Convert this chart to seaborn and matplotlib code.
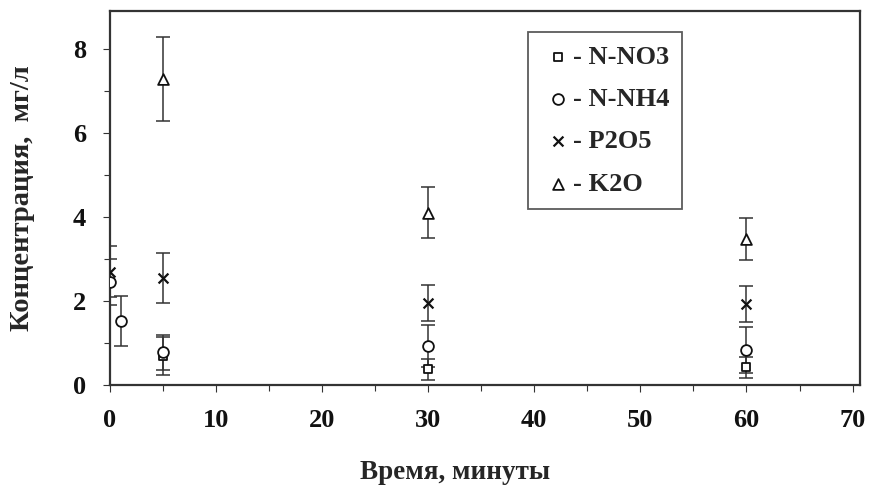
import matplotlib
matplotlib.use("Agg")
import matplotlib.pyplot as plt
from matplotlib.ticker import MultipleLocator
import pandas as pd
import seaborn as sns

# данные
no3_t = [5, 30, 60]
no3_c = [0.70, 0.37, 0.42]
no3_err = [0.45, 0.25, 0.25]

nh4_t = [0, 1, 5, 30, 60]
nh4_c = [2.45, 1.52, 0.78, 0.92, 0.83]
nh4_err = [0.55, 0.60, 0.42, 0.50, 0.55]

p2o5_t = [0, 5, 30, 60]
p2o5_c = [2.70, 2.55, 1.95, 1.93]
p2o5_err = [0.60, 0.60, 0.42, 0.42]

k2o_t = [5, 30, 60]
k2o_c = [7.28, 4.10, 3.48]
k2o_err = [1.00, 0.60, 0.50]

series = [
    ("- N-NO3", no3_t, no3_c, no3_err),
    ("- N-NH4", nh4_t, nh4_c, nh4_err),
    ("- P2O5", p2o5_t, p2o5_c, p2o5_err),
    ("- K2O", k2o_t, k2o_c, k2o_err),
]

rows = []
for name, t, c, e in series:
    for ti, ci, ei in zip(t, c, e):
        rows.append({"Время": ti, "Концентрация": ci, "err": ei, "Вещество": name})
df = pd.DataFrame(rows)

sns.set_style("ticks")
plt.rcParams["font.family"] = ["Liberation Serif", "DejaVu Serif"]
plt.rcParams["font.weight"] = "bold"

fig = plt.figure(figsize=(8.77, 4.95), dpi=100)
ax = fig.add_axes([0.1254, 0.2222, 0.8552, 0.7556])

for name, t, c, e in series:
    ax.errorbar(t, c, yerr=e, fmt="none", ecolor="#333333", elinewidth=1.1,
                capsize=5, capthick=1.1, zorder=2)

markers = {"- N-NO3": "s", "- N-NH4": "o", "- K2O": "^"}
sizes = {"- N-NO3": 40, "- N-NH4": 60, "- K2O": 60}
for name, t, c, e in series:
    sub = df[df["Вещество"] == name]
    if name == "- P2O5":
        sns.scatterplot(data=sub, x="Время", y="Концентрация", marker="x",
                        s=50, color="#111111", linewidth=1.6, ax=ax,
                        label=name, zorder=3)
    else:
        sns.scatterplot(data=sub, x="Время", y="Концентрация",
                        marker=markers[name], s=sizes[name], facecolor="white",
                        edgecolor="#111111", linewidth=1.3, ax=ax,
                        label=name, zorder=3)

ax.set_xlim(0, 70.7)
ax.set_ylim(0, 8.9)
ax.set_xticks(range(0, 71, 10))
ax.set_yticks(range(0, 9, 2))
ax.xaxis.set_minor_locator(MultipleLocator(5))
ax.yaxis.set_minor_locator(MultipleLocator(1))
ax.tick_params(axis="both", which="both", direction="out", colors="#333333",
               labelcolor="#111111", width=0.8)
ax.tick_params(axis="both", which="major", labelsize=19, length=5)
ax.tick_params(axis="both", which="minor", length=4)
ax.tick_params(axis="x", which="major", pad=12)
ax.tick_params(axis="y", which="major", pad=12)
for lab in ax.get_xticklabels() + ax.get_yticklabels():
    lab.set_fontweight("bold")
for sp in ax.spines.values():
    sp.set_visible(True)
    sp.set_linewidth(1.6)
    sp.set_color("#333333")

ax.set_xlabel("Время, минуты", fontsize=19.5, fontweight="bold")
ax.xaxis.set_label_coords(0.46, -0.2)
ax.set_ylabel("Концентрация,  мг/л", fontsize=20.5, fontweight="bold")
ax.yaxis.set_label_coords(-0.1, 0.5)

leg = ax.legend(loc="upper left", bbox_to_anchor=(0.557, 0.943), frameon=True,
                fancybox=False, edgecolor="#333333", fontsize=19,
                labelspacing=0.71, borderpad=0.5, handletextpad=-0.1,
                handlelength=1.3, borderaxespad=0)
leg.get_frame().set_linewidth(1.3)
for txt in leg.get_texts():
    txt.set_fontweight("bold")

fig.savefig("out.png", dpi=100)
